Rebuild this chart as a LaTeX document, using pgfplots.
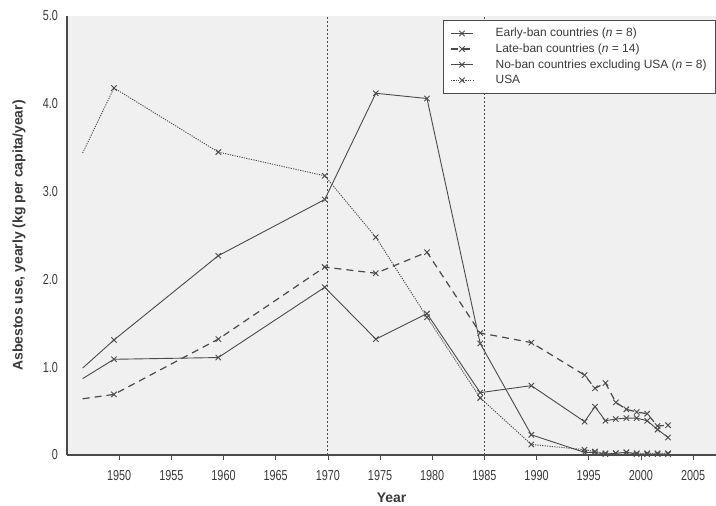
\documentclass[border=0pt]{standalone}
\usepackage{fontspec}
\setmainfont{Liberation Sans}
\usepackage{pgfplots}
\pgfplotsset{compat=1.18}
\definecolor{ln}{HTML}{4a4a4a}
\definecolor{txt}{HTML}{3a3a3a}
\begin{document}
\begin{tikzpicture}[x=1bp,y=1bp]
\useasboundingbox (0,0) rectangle (716,506);
\begin{axis}[
  at={(67bp,51bp)}, anchor=south west,
  scale only axis, width=649bp, height=439bp,
  xmin=1945, xmax=2007.2, ymin=0, ymax=5,
  axis x line*=bottom, axis y line*=left,
  axis line style={-, ln, line width=1.1pt},
  axis background/.style={fill=black!6},
  xtick={1950,1955,...,2005},
  ytick={0,1,2,3,4,5},
  yticklabels={0,1.0,2.0,3.0,4.0,5.0},
  xticklabel style={/pgf/number format/1000 sep={}, font=\fontsize{14.5}{15}\selectfont, text=txt, xscale=0.75, yshift=-7bp},
  yticklabel style={font=\fontsize{14.5}{15}\selectfont, text=txt, xscale=0.75, xshift=-2bp},
  /pgf/number format/assume math mode=true,
  tick align=outside, major tick length=5bp,
  xtick style={ln, line width=0.7pt},
  ytick style={draw=none},
  xlabel={Year}, ylabel={Asbestos use, yearly (kg per capita/year)},
  xlabel style={font=\bfseries\fontsize{14}{16}\selectfont, text=txt, at={(rel axis cs:0.5,0)}, anchor=center, yshift=-43bp},
  ylabel style={font=\bfseries\fontsize{14}{16}\selectfont, text=txt, at={(rel axis cs:0,0.5)}, anchor=center, yshift=48bp},
  legend style={at={(rel axis cs:1,0.991)}, anchor=north east, draw=ln, line width=0.8pt,
    font=\fontsize{12}{13}\selectfont, text=txt, fill=white, inner xsep=7bp, inner ysep=6bp,
    row sep=1.5bp, column sep=20bp, cells={anchor=west}},
  legend image code/.code={\draw[mark repeat=2,mark phase=2,#1] plot coordinates {(0cm,0cm)(0.39cm,0cm)(0.78cm,0cm)};},
  clip=false,
]
\addplot[ln, line width=1.2pt, dash pattern=on 2bp off 2bp, forget plot] coordinates {(1970,0)(1970,5)};
\addplot[ln, line width=1.2pt, dash pattern=on 2bp off 2bp, forget plot] coordinates {(1985,0)(1985,5)};

\addplot[ln, line width=0.9pt, mark=x, mark size=3.8bp, mark repeat=1, mark phase=2, mark options={solid, line width=0.9pt}] coordinates {
(1946.5,0.99)(1949.5,1.31)(1959.5,2.27)(1969.7,2.91)(1974.6,4.12)(1979.5,4.06)(1984.6,1.27)(1989.5,0.23)
(1994.6,0.03)(1995.6,0.03)(1996.6,0.01)(1997.6,0.02)(1998.6,0.03)(1999.6,0.01)(2000.6,0.01)(2001.6,0.01)(2002.6,0.01)};
\addlegendentry{Early-ban countries (\textit{n} = 8)}

\addplot[ln, line width=1.2pt, dash pattern=on 7bp off 5bp, mark=x, mark size=3.8bp, mark repeat=1, mark phase=2, mark options={solid, line width=0.9pt}] coordinates {
(1946.5,0.64)(1949.5,0.69)(1959.5,1.32)(1969.7,2.14)(1974.6,2.07)(1979.5,2.31)(1984.6,1.39)(1989.5,1.28)
(1994.6,0.91)(1995.6,0.76)(1996.6,0.82)(1997.6,0.60)(1998.6,0.52)(1999.6,0.49)(2000.6,0.47)(2001.6,0.33)(2002.6,0.34)};
\addlegendentry{Late-ban countries (\textit{n} = 14)}

\addplot[ln, line width=0.9pt, mark=x, mark size=3.8bp, mark repeat=1, mark phase=2, mark options={solid, line width=0.9pt}] coordinates {
(1946.5,0.87)(1949.5,1.09)(1959.5,1.11)(1969.7,1.91)(1974.6,1.32)(1979.5,1.61)(1984.6,0.71)(1989.5,0.79)
(1994.6,0.38)(1995.6,0.55)(1996.6,0.39)(1997.6,0.41)(1998.6,0.42)(1999.6,0.42)(2000.6,0.39)(2001.6,0.29)(2002.6,0.20)};
\addlegendentry{No-ban countries excluding USA (\textit{n} = 8)}

\addplot[ln, line width=0.9pt, dash pattern=on 1.2bp off 1.2bp, mark=x, mark size=3.8bp, mark repeat=1, mark phase=2, mark options={solid, line width=0.9pt}] coordinates {
(1946.5,3.44)(1949.5,4.18)(1959.5,3.45)(1969.7,3.18)(1974.6,2.48)(1979.5,1.57)(1984.6,0.65)(1989.5,0.12)
(1994.6,0.06)(1995.6,0.04)(1996.6,0.02)(1997.6,0.02)(1998.6,0.03)(1999.6,0.02)(2000.6,0.02)(2001.6,0.02)(2002.6,0.02)};
\addlegendentry{USA}
\end{axis}
\end{tikzpicture}
\end{document}
